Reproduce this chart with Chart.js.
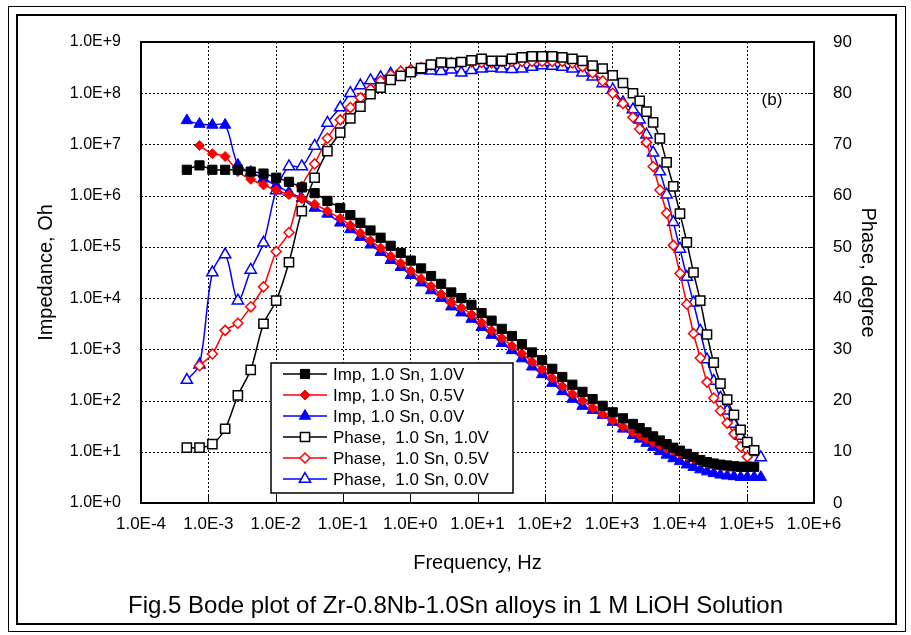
<!DOCTYPE html>
<html>
<head>
<meta charset="utf-8">
<script src="https://cdn.jsdelivr.net/npm/chart.js@4.4.1/dist/chart.umd.min.js"></script>
<style>
  body { margin: 0; background: #fff; }
  #wrap { position: relative; width: 911px; height: 635px; }
  #outer { position: absolute; left: 8px; top: 6px; width: 896px; height: 624px; border: 1px solid #000; }
  #inner { position: absolute; left: 16px; top: 14px; width: 877px; height: 607px; border: 2px solid #000; }
  #chart { position: absolute; left: 0; top: 0; }
</style>
</head>
<body>
<div id="wrap">
  <div id="outer"></div>
  <div id="inner"></div>
  <canvas id="chart" width="911" height="635"></canvas>
</div>
<script>
// frequencies (Hz)
const freq = [4.8e-4, 7.4e-4, 1.15e-3, 1.78e-3, 2.75e-3, 4.27e-3, 6.61e-3, 0.0102, 0.0158, 0.0245, 0.038, 0.0589, 0.0912,
  0.129, 0.182, 0.257, 0.363, 0.513, 0.724, 1.02, 1.45, 2.04, 2.88, 4.07, 5.75, 8.13, 11.5, 16.2, 22.9, 32.4, 45.7, 64.6, 91.2,
  129, 182, 257, 363, 513, 724, 1020, 1450, 2040,
  2570, 3240, 4070, 5130, 6460, 8130, 10200, 12900, 16200, 20400, 25700, 32400, 40700, 51300, 64600, 81300, 102000, 129000, 162000];

// impedance (ohm)
const impBlack = [3.2e6, 3.9e6, 3.2e6, 3.2e6, 3.2e6, 2.95e6, 2.7e6, 2.24e6, 1.86e6, 1.45e6, 1.12e6, 7.9e5, 5.75e5,
  4.17e5, 2.95e5, 2.09e5, 1.51e5, 1.05e5, 7.6e4, 5.4e4, 3.8e4, 2.7e4, 1.9e4, 1.29e4, 1.0e4, 7400, 5100, 3630, 2510, 1820, 1260, 870, 617, 417, 288, 204, 148, 107, 79, 59, 45, 35,
  29, 24, 20, 16.6, 14.1, 12.0, 10.5, 9.1, 7.9, 6.9, 6.3, 5.9, 5.6, 5.4, 5.2, 5.1, 5.1, 5.1, null];
const impRed = [null, 9.5e6, 6.6e6, 5.8e6, 2.95e6, 2.09e6, 1.62e6, 1.29e6, 1.05e6, 8.7e5, 6.8e5, 5.0e5, 3.6e5,
  2.63e5, 1.86e5, 1.32e5, 9.5e4, 6.6e4, 4.8e4, 3.4e4, 2.4e4, 1.7e4, 1.2e4, 8300, 6500, 4800, 3300, 2340, 1660, 1170, 830, 575, 407, 275, 190, 135, 100, 72, 54, 41, 31, 24.5,
  21, 17.8, 15.5, 13.2, 11.7, 10.5, 9.3, 8.3, 7.4, 6.6, 6.0, 5.75, 5.5, 5.2, 5.1, 5.0, 5.0, null, null];
const impBlue = [2.95e7, 2.5e7, 2.4e7, 2.4e7, 4.0e6, 2.9e6, 2.14e6, 1.58e6, 1.17e6, 8.9e5, 5.75e5, 4.4e5, 2.95e5,
  2.19e5, 1.55e5, 1.10e5, 7.9e4, 5.5e4, 4.0e4, 2.8e4, 2.0e4, 1.41e4, 1.0e4, 6800, 5200, 3900, 2700, 1900, 1320, 955, 660, 457, 324, 219, 151, 107, 78, 65, 52, 38, 28, 21,
  17.8, 14.8, 12.3, 10.2, 8.7, 7.4, 6.5, 5.6, 5.0, 4.5, 4.1, 3.8, 3.55, 3.4, 3.3, 3.2, 3.2, 3.2, 3.2];

// phase (degree)
const phBlack = [10.8, 10.8, 11.5, 14.5, 21, 26, 35, 39.5, 47, 57, 63.5, 68.7, 72.3,
  75.1, 77.4, 79.8, 81.1, 82.6, 83.4, 84.1, 84.9, 85.6, 86.0, 85.9, 86.1, 86.4, 86.7, 86.3, 86.3, 86.7, 87.0, 87.2, 87.2, 87.2, 87.0, 86.7, 86.3, 85.4, 84.8, 83.5, 82.0, 80.0,
  78.5, 76.4, 74.3, 71.2, 66.5, 61.8, 56.5, 50.9, 45.0, 39.5, 32.9, 27.4, 23.3, 20.2, 17.2, 14.3, 11.9, 10.3, null];
const phRed = [null, 26.8, 29.1, 33.7, 35.1, 38.3, 42.2, 49.1, 52.8, 61.8, 66.2, 71.2, 74.8,
  77.2, 79.1, 80.8, 82.4, 83.6, 84.3, 84.6, 85.0, 85.5, 85.9, 86.0, 85.9, 86.1, 86.0, 85.9, 86.2, 86.2, 86.2, 86.2, 86.2, 86.2, 86.2, 85.9, 85.2, 84.0, 82.4, 80.0, 78.0, 75.3,
  73.0, 70.4, 65.7, 61.1, 56.6, 50.3, 44.8, 38.8, 33.1, 28.3, 23.6, 20.5, 18.0, 15.6, 13.5, 11.0, 9.0, null, null];
const phBlue = [24.0, 27.0, 45.0, 48.5, 39.5, 45.5, 50.8, 61.0, 65.7, 65.7, 69.7, 74.2, 77.2,
  80.0, 81.5, 82.5, 83.1, 83.8, 84.0, 84.2, 84.5, 84.4, 84.3, 84.6, 84.0, 84.5, 84.8, 84.9, 84.8, 84.7, 84.8, 85.1, 85.4, 85.3, 85.1, 84.8, 84.0, 83.2, 81.9, 80.7, 78.2, 76.8,
  74.8, 71.9, 68.4, 64.7, 60.2, 54.8, 49.6, 44.1, 39.1, 33.6, 28.0, 23.8, 20.5, 18.0, 15.4, 13.1, 11.5, 9.9, 8.9];

const labels = ["Imp, 1.0 Sn, 1.0V", "Imp, 1.0 Sn, 0.5V", "Imp, 1.0 Sn, 0.0V",
  "Phase,  1.0 Sn, 1.0V", "Phase,  1.0 Sn, 0.5V", "Phase,  1.0 Sn, 0.0V"];
const xTicks = [1e-4, 1e-3, 1e-2, 1e-1, 1e0, 1e1, 1e2, 1e3, 1e4, 1e5, 1e6];
const impTicks = [1e0, 1e1, 1e2, 1e3, 1e4, 1e5, 1e6, 1e7, 1e8, 1e9];
const phaseTicks = [0, 10, 20, 30, 40, 50, 60, 70, 80, 90];

const FONT = "'Liberation Sans', Arial, sans-serif";

function sci(v) {
    let e = Math.round(Math.log10(v));
    return "1.0E" + (e < 0 ? "-" : "+") + Math.abs(e);
}

function pts(arr) {
    return freq.map((f, i) => ({ x: f, y: arr[i] })).filter(p => p.y !== null);
}

function series(label, arr, color, style, radius, filled, axis) {
    return {
        label: label,
        data: pts(arr),
        yAxisID: axis,
        borderColor: color,
        borderWidth: 1.5,
        backgroundColor: filled ? color : "#fff",
        pointStyle: style,
        pointRadius: radius,
        pointBorderWidth: filled ? 1 : 1.5,
        pointBackgroundColor: filled ? color : "#fff",
        pointBorderColor: color,
        tension: 0.3,
        showLine: true
    };
}

// draw one marker the same way the chart does
function marker(ctx, style, x, y, r, color, filled) {
    ctx.save();
    ctx.beginPath();
    if (style === "rect") {
        let s = r * Math.SQRT1_2;
        ctx.rect(x - s, y - s, 2 * s, 2 * s);
    } else if (style === "rectRot") {
        ctx.moveTo(x - r, y); ctx.lineTo(x, y - r); ctx.lineTo(x + r, y); ctx.lineTo(x, y + r);
        ctx.closePath();
    } else {
        ctx.moveTo(x, y - r);
        ctx.lineTo(x + 0.866 * r, y + 0.5 * r);
        ctx.lineTo(x - 0.866 * r, y + 0.5 * r);
        ctx.closePath();
    }
    ctx.fillStyle = filled ? color : "#fff";
    ctx.fill();
    ctx.strokeStyle = color;
    ctx.lineWidth = filled ? 1 : 1.5;
    ctx.stroke();
    ctx.restore();
}

// dotted grid at the decade ticks
const gridPlugin = {
    id: "gridPlugin",
    beforeDatasetsDraw(chart) {
        const ctx = chart.ctx;
        const a = chart.chartArea;
        ctx.save();
        ctx.strokeStyle = "#000";
        ctx.lineWidth = 1;
        ctx.setLineDash([2, 2]);
        ctx.beginPath();
        xTicks.slice(1, -1).forEach(v => {
            let px = Math.round(chart.scales.x.getPixelForValue(v)) + 0.5;
            ctx.moveTo(px, a.top);
            ctx.lineTo(px, a.bottom);
        });
        impTicks.slice(1, -1).forEach(v => {
            let py = Math.round(chart.scales.y.getPixelForValue(v)) + 0.5;
            ctx.moveTo(a.left, py);
            ctx.lineTo(a.right, py);
        });
        ctx.stroke();
        ctx.restore();
    }
};

const boxPlugin = {
    id: "boxPlugin",
    afterDraw(chart) {
        const ctx = chart.ctx;
        const a = chart.chartArea;
        ctx.save();
        // plot frame
        ctx.strokeStyle = "#000";
        ctx.lineWidth = 2;
        ctx.strokeRect(a.left, a.top, a.right - a.left, a.bottom - a.top);
        // inside tick marks
        ctx.lineWidth = 1;
        ctx.beginPath();
        xTicks.forEach(v => {
            let px = Math.round(chart.scales.x.getPixelForValue(v)) + 0.5;
            ctx.moveTo(px, a.bottom);
            ctx.lineTo(px, a.bottom - 7);
        });
        phaseTicks.forEach(v => {
            let py = Math.round(chart.scales.y2.getPixelForValue(v)) + 0.5;
            ctx.moveTo(a.right, py);
            ctx.lineTo(a.right - 6, py);
        });
        ctx.stroke();

        ctx.fillStyle = "#000";
        ctx.font = "17px " + FONT;
        ctx.textAlign = "center";
        ctx.textBaseline = "middle";
        ctx.fillText("(b)", a.right - 42, a.top + 58);

        // legend
        const lx = a.left + 130, ly = a.bottom - 140, lw = 242, lh = 130;
        ctx.fillStyle = "#fff";
        ctx.fillRect(lx, ly, lw, lh);
        ctx.lineWidth = 1.5;
        ctx.strokeStyle = "#000";
        ctx.strokeRect(lx, ly, lw, lh);
        ctx.textAlign = "left";
        chart.data.datasets.forEach((ds, i) => {
            let cy = ly + 11 + i * 21;
            ctx.strokeStyle = ds.borderColor;
            ctx.lineWidth = 1.5;
            ctx.beginPath();
            ctx.moveTo(lx + 12, cy);
            ctx.lineTo(lx + 56, cy);
            ctx.stroke();
            marker(ctx, ds.pointStyle, lx + 34, cy, ds.pointRadius, ds.borderColor, ds.pointBackgroundColor !== "#fff");
            ctx.fillStyle = "#000";
            ctx.fillText(ds.label, lx + 62, cy + 1);
        });
        ctx.restore();
    }
};

new Chart(document.getElementById("chart"), {
    type: "scatter",
    data: {
        datasets: [
            series(labels[0], impBlack, "#000000", "rect", 6.5, true, "y"),
            series(labels[1], impRed, "#ff0000", "rectRot", 5, true, "y"),
            series(labels[2], impBlue, "#0000ff", "triangle", 6.5, true, "y"),
            series(labels[3], phBlack, "#000000", "rect", 6.5, false, "y2"),
            series(labels[4], phRed, "#ff0000", "rectRot", 5, false, "y2"),
            series(labels[5], phBlue, "#0000ff", "triangle", 6.5, false, "y2")
        ]
    },
    options: {
        responsive: false,
        animation: false,
        devicePixelRatio: 1,
        layout: { padding: { top: 42, left: 0, right: 0, bottom: 0 } },
        plugins: {
            legend: { display: false },
            tooltip: { enabled: false },
            title: {
                display: true,
                position: "bottom",
                text: "Fig.5 Bode plot of Zr-0.8Nb-1.0Sn alloys in 1 M LiOH Solution",
                color: "#000",
                font: { family: FONT, size: 24, weight: "normal" },
                padding: { top: 4, bottom: 14 }
            }
        },
        scales: {
            x: {
                type: "logarithmic",
                position: "bottom",
                min: 1e-4,
                max: 1e6,
                afterBuildTicks: s => { s.ticks = xTicks.map(v => ({ value: v })); },
                afterFit: s => { s.height = 85.2; },
                ticks: { callback: v => sci(v), color: "#000", font: { family: FONT, size: 17 }, padding: 11, maxRotation: 0, autoSkip: false },
                grid: { display: false, drawTicks: false },
                border: { display: false },
                title: { display: true, text: "Frequency, Hz", color: "#000", font: { family: FONT, size: 20 }, padding: { top: 0, bottom: 13 } }
            },
            y: {
                type: "logarithmic",
                position: "left",
                min: 1,
                max: 1e9,
                afterBuildTicks: s => { s.ticks = impTicks.map(v => ({ value: v })); },
                afterFit: s => { s.width = 141; },
                ticks: { callback: v => sci(v), color: "#000", font: { family: FONT, size: 16 }, padding: 20, autoSkip: false },
                grid: { display: false, drawTicks: false },
                border: { display: false },
                title: { display: true, text: "Impedance, Oh", color: "#000", font: { family: FONT, size: 20 }, padding: { top: 34, bottom: 0 } }
            },
            y2: {
                type: "linear",
                position: "right",
                min: 0,
                max: 90,
                afterBuildTicks: s => { s.ticks = phaseTicks.map(v => ({ value: v })); },
                afterFit: s => { s.width = 97; },
                ticks: { color: "#000", font: { family: FONT, size: 17 }, padding: 19 },
                grid: { display: false, drawTicks: false },
                border: { display: false },
                title: { display: true, text: "Phase, degree", color: "#000", font: { family: FONT, size: 20 }, padding: { top: 31, bottom: 0 } }
            }
        }
    },
    plugins: [gridPlugin, boxPlugin]
});
</script>
</body>
</html>
